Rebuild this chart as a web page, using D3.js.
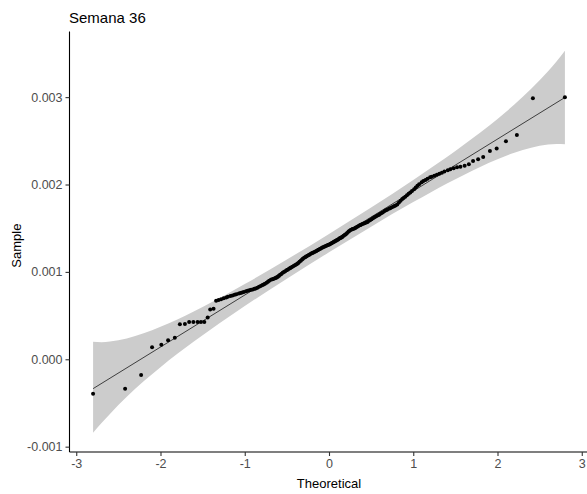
<!DOCTYPE html>
<html>
<head>
<meta charset="utf-8">
<script src="https://cdn.jsdelivr.net/npm/d3@7"></script>
<style>
  body { margin: 0; background: #fff; }
  text { font-family: "Liberation Sans", Arial, sans-serif; }
</style>
</head>
<body>
<div id="grafica"></div>
<script>
// valores teoricos (cuantiles normales) de cada punto
var teorico = [
  -2.80,-2.42,-2.23,-2.10,-1.99,-1.91,-1.83,-1.77,-1.71,-1.66,
  -1.61,-1.56,-1.52,-1.48,-1.44,-1.41,-1.37,-1.34,-1.31,-1.28,
  -1.25,-1.22,-1.20,-1.17,-1.145,-1.12,-1.10,-1.07,-1.05,-1.03,
  -1.01,-0.985,-0.965,-0.945,-0.925,-0.905,-0.885,-0.87,-0.85,-0.83,
  -0.81,-0.79,-0.775,-0.76,-0.74,-0.725,-0.71,-0.69,-0.674,-0.66,
  -0.64,-0.625,-0.61,-0.595,-0.58,-0.565,-0.55,-0.535,-0.52,-0.505,
  -0.49,-0.475,-0.46,-0.45,-0.435,-0.42,-0.405,-0.39,-0.375,-0.365,
  -0.35,-0.335,-0.32,-0.31,-0.295,-0.28,-0.27,-0.255,-0.24,-0.23,
  -0.215,-0.20,-0.19,-0.175,-0.16,-0.15,-0.135,-0.125,-0.11,-0.097,
  -0.084,-0.071,-0.058,-0.045,-0.032,-0.019,-0.006,
  0.006,0.019,0.032,0.045,0.058,0.071,0.084,
  0.097,0.11,0.125,0.135,0.15,0.16,0.175,0.19,0.20,0.215,
  0.23,0.24,0.255,0.27,0.28,0.295,0.31,0.32,0.335,0.35,
  0.365,0.375,0.39,0.405,0.42,0.435,0.45,0.46,0.475,0.49,
  0.505,0.52,0.535,0.55,0.565,0.58,0.595,0.61,0.625,0.64,
  0.66,0.674,0.69,0.71,0.725,0.74,0.76,0.775,0.79,0.81,
  0.83,0.85,0.87,0.885,0.905,0.925,0.945,0.965,0.985,1.01,
  1.03,1.05,1.07,1.10,1.12,1.145,1.17,1.20,1.22,1.25,
  1.28,1.31,1.34,1.37,1.41,1.44,1.48,1.52,1.56,1.61,
  1.66,1.71,1.77,1.83,1.91,1.99,2.10,2.23,2.42,2.80
];

// valores de la muestra (ordenados)
var muestra = [
  -0.000393,-0.000336,-0.000179,0.000137,0.000167,0.000217,0.000247,0.000400,0.000403,0.000426,
  0.000426,0.000426,0.000427,0.000427,0.000477,0.000570,0.000578,0.000670,0.000679,0.000688,
  0.000698,0.000708,0.000715,0.000725,0.000730,0.000738,0.000744,0.000753,0.000758,0.000765,
  0.000770,0.000778,0.000783,0.000789,0.000795,0.000800,0.000806,0.000811,0.000818,0.000829,
  0.000840,0.000850,0.000857,0.000865,0.000876,0.000888,0.000900,0.000910,0.000915,0.000920,
  0.000927,0.000933,0.000941,0.000953,0.000966,0.000977,0.000990,0.000999,0.001008,0.001018,
  0.001026,0.001036,0.001045,0.001050,0.001059,0.001067,0.001075,0.001084,0.001093,0.001103,
  0.001115,0.001129,0.001142,0.001151,0.001161,0.001170,0.001176,0.001185,0.001194,0.001200,
  0.001208,0.001216,0.001220,0.001228,0.001234,0.001240,0.001247,0.001253,0.001261,0.001268,
  0.001276,0.001283,0.001289,0.001294,0.001300,0.001305,0.001311,0.001313,0.001322,0.001329,
  0.001336,0.001343,0.001350,0.001357,0.001364,0.001372,0.001381,0.001387,0.001395,0.001403,
  0.001413,0.001425,0.001432,0.001444,0.001459,0.001469,0.001480,0.001486,0.001490,0.001495,
  0.001502,0.001507,0.001516,0.001525,0.001533,0.001538,0.001544,0.001550,0.001556,0.001562,
  0.001569,0.001574,0.001584,0.001594,0.001603,0.001613,0.001622,0.001630,0.001639,0.001647,
  0.001655,0.001664,0.001674,0.001684,0.001698,0.001705,0.001712,0.001722,0.001729,0.001736,
  0.001746,0.001754,0.001760,0.001772,0.001793,0.001814,0.001835,0.001846,0.001861,0.001877,
  0.001893,0.001909,0.001925,0.001946,0.001965,0.001985,0.002002,0.002025,0.002040,0.002053,
  0.002067,0.002083,0.002090,0.002101,0.002111,0.002122,0.002135,0.002148,0.002164,0.002176,
  0.002187,0.002198,0.002204,0.002215,0.002232,0.002270,0.002289,0.002315,0.002384,0.002411,
  0.002495,0.002567,0.002986,0.002998
];

// banda de confianza
var bandaX = [-2.8,-2.7,-2.6,-2.4,-2.2,-2.0,-1.8,-1.6,-1.4,-1.2,-1.0,-0.5,0,0.5,1.0,1.2,1.4,1.6,1.8,2.0,2.2,2.4,2.6,2.7,2.8];
var bandaSup = [0.000200,0.000196,0.000203,0.000239,0.000297,0.000371,0.000456,0.000550,0.000649,0.000754,0.000861,0.001142,0.001435,0.001737,0.002051,0.002182,0.002315,0.002454,0.002598,0.002751,0.002915,0.003095,0.003297,0.003409,0.003532];
var bandaInf = [-0.000842,-0.000730,-0.000625,-0.000430,-0.000252,-0.000090,0.000062,0.000206,0.000345,0.000478,0.000609,0.000923,0.001225,0.001518,0.001799,0.001906,0.002011,0.002110,0.002204,0.002289,0.002363,0.002421,0.002457,0.002464,0.002460];

// recta de referencia
var lineaX = [-2.8, 2.8];
var lineaY = [-0.000336, 0.002996];

var ticksX = [-3, -2, -1, 0, 1, 2, 3];
var ticksY = [-0.001, 0, 0.001, 0.002, 0.003];

var width = 587,
    height = 494;
var margin = { left: 69.5, right: 0, top: 31.5, bottom: 42 };

var svg = d3.select("#grafica")
            .append("svg")
            .attr("width", width)
            .attr("height", height);

var x = d3.scaleLinear()
          .domain([-3.08, 3.08])
          .range([margin.left, 588.5]);
var y = d3.scaleLinear()
          .domain([-0.001061, 0.003751])
          .range([height - margin.bottom, margin.top]);

var banda = bandaX.map(function(d, i) { return { x: d, sup: bandaSup[i], inf: bandaInf[i] }; });
var area = d3.area()
             .curve(d3.curveMonotoneX)
             .x(function(d) { return x(d.x); })
             .y0(function(d) { return y(d.inf); })
             .y1(function(d) { return y(d.sup); });

svg.append("path")
   .datum(banda)
   .attr("d", area)
   .style("fill", "#cccccc");

svg.append("line")
   .attr("x1", x(lineaX[0]))
   .attr("y1", y(lineaY[0]))
   .attr("x2", x(lineaX[1]))
   .attr("y2", y(lineaY[1]))
   .style("stroke", "#000")
   .style("stroke-width", 0.7);

var puntos = teorico.map(function(d, i) { return { t: d, s: muestra[i] }; });
svg.selectAll("circle")
   .data(puntos)
   .enter()
     .append("circle")
     .attr("cx", function(d) { return x(d.t); })
     .attr("cy", function(d) { return y(d.s); })
     .attr("r", 2)
     .style("fill", "#000");

// guion normal en vez del signo menos de d3
var fmtX = function(d) { return d3.format("d")(d).replace("\u2212", "-"); };
var fmtY = function(d) { return d3.format(".3f")(d).replace("\u2212", "-"); };

// ejes
var ejeX = svg.append("g")
              .attr("transform", "translate(0," + (height - margin.bottom) + ")")
              .call(d3.axisBottom(x).tickValues(ticksX).tickSize(4).tickPadding(3).tickFormat(fmtX));
var ejeY = svg.append("g")
              .attr("transform", "translate(" + margin.left + ",0)")
              .call(d3.axisLeft(y).tickValues(ticksY).tickSize(4).tickPadding(3).tickFormat(fmtY));

[ejeX, ejeY].forEach(function(g) {
    g.select(".domain").style("stroke", "#000").style("stroke-width", 1.1);
    g.selectAll(".tick line").style("stroke", "#333").style("stroke-width", 1.1);
    g.selectAll(".tick text")
     .style("font-family", "'Liberation Sans', Arial, sans-serif")
     .style("font-size", "12.5px")
     .style("fill", "#4d4d4d");
});
ejeX.select(".domain").attr("d", "M" + margin.left + ",0H" + width);
ejeY.select(".domain").attr("d", "M0," + (height - margin.bottom) + "V" + margin.top);

svg.append("text")
   .attr("x", 69)
   .attr("y", 23)
   .style("font-size", "15px")
   .style("fill", "#000")
   .text("Semana 36");

svg.append("text")
   .attr("x", x(0))
   .attr("y", 488)
   .attr("text-anchor", "middle")
   .style("font-size", "13px")
   .style("fill", "#000")
   .text("Theoretical");

svg.append("text")
   .attr("transform", "translate(21," + y(0.0013) + ") rotate(-90)")
   .attr("text-anchor", "middle")
   .style("font-size", "13px")
   .style("fill", "#000")
   .text("Sample");
</script>
</body>
</html>
